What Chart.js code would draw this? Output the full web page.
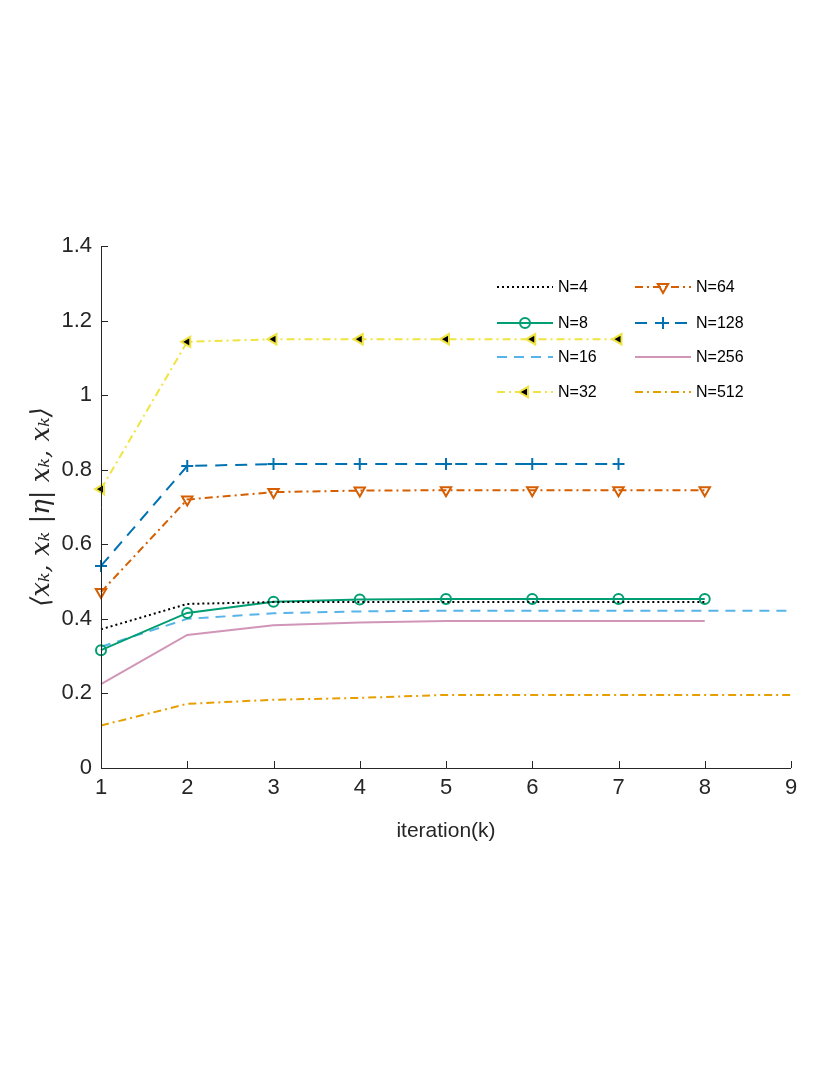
<!DOCTYPE html>
<html><head><meta charset="utf-8">
<script src="https://cdn.jsdelivr.net/npm/chart.js@4.4.1/dist/chart.umd.min.js"></script>
<style>html,body{margin:0;padding:0;background:#fff}#wrap{width:830px;height:1075px}</style>
</head><body><div id="wrap"><canvas id="c" width="830" height="1075"></canvas></div>
<script>
const iterations = [1,2,3,4,5,6,7,8,9];
const seriesNames = ['N=4','N=8','N=16','N=32','N=64','N=128','N=256','N=512'];
const n4   = [0.372,0.440,0.445,0.445,0.445,0.445,0.445,0.445];
const n8   = [0.316,0.416,0.446,0.452,0.453,0.453,0.453,0.453];
const n16  = [0.325,0.400,0.415,0.420,0.422,0.422,0.422,0.422,0.422];
const n32  = [0.748,1.143,1.150,1.150,1.150,1.150,1.150];
const n64  = [0.472,0.720,0.740,0.744,0.745,0.745,0.745,0.745];
const n128 = [0.542,0.810,0.815,0.815,0.815,0.815,0.815];
const n256 = [0.225,0.357,0.383,0.390,0.394,0.394,0.394,0.394];
const n512 = [0.114,0.172,0.183,0.188,0.196,0.196,0.196,0.196,0.196];
const xTicks = [1,2,3,4,5,6,7,8,9];
const yTicks = [0,0.2,0.4,0.6,0.8,1,1.2,1.4];

const pts = arr => arr.map((v,i)=>({x:iterations[i], y:v}));
const styles = [
  {c:'#000000', dash:[2,3], pt:false},
  {c:'#009E73', dash:[], pt:'circle', r:5, bg:'rgba(0,0,0,0)'},
  {c:'#56B4E9', dash:[10,7], pt:false},
  {c:'#F0E442', dash:[8,4,2,4], pt:'triangle', rot:-90, r:6, bg:'#000000'},
  {c:'#D55E00', dash:[8,4,2,4], pt:'triangle', rot:180, r:6, bg:'rgba(0,0,0,0)'},
  {c:'#0072B2', dash:[12,8], pt:'cross', r:6},
  {c:'#D195B8', dash:[], pt:false},
  {c:'#E69F00', dash:[8,4,2,4], pt:false}
];
const values = [n4,n8,n16,n32,n64,n128,n256,n512];
const datasets = values.map((arr,i)=>{
  const s = styles[i];
  return {
    label: seriesNames[i], data: pts(arr),
    borderColor: s.c, borderWidth: 2, borderDash: s.dash,
    pointStyle: s.pt || 'circle',
    pointRadius: s.pt ? s.r : 0,
    pointRotation: s.rot || 0,
    pointBackgroundColor: s.bg || s.c,
    pointBorderColor: s.c, pointBorderWidth: 2,
    fill: false, tension: 0, clip: false
  };
});

const L = 101, R = 791, T = 246, B = 768;
const textColor = '#262626';

const decor = {
  id: 'decor',
  afterDraw(chart){
    const ctx = chart.ctx;
    const xs = chart.scales.x, ys = chart.scales.y;
    ctx.save();
    ctx.strokeStyle = '#262626'; ctx.lineWidth = 1; ctx.setLineDash([]);
    ctx.beginPath(); ctx.moveTo(L+0.5, T); ctx.lineTo(L+0.5, B+0.5); ctx.lineTo(R, B+0.5); ctx.stroke();
    yTicks.forEach(v=>{const y=Math.round(ys.getPixelForValue(v))+0.5; ctx.beginPath(); ctx.moveTo(L,y); ctx.lineTo(L+7,y); ctx.stroke();});
    xTicks.forEach(v=>{const x=Math.round(xs.getPixelForValue(v))+0.5; ctx.beginPath(); ctx.moveTo(x,B); ctx.lineTo(x,B-7); ctx.stroke();});
    ctx.fillStyle = textColor;
    ctx.font = '21px "Liberation Sans", Arial, sans-serif';
    ctx.textAlign = 'center'; ctx.textBaseline = 'middle';
    ctx.fillText('iteration(k)', (L+R)/2, 831);
    ctx.save();
    ctx.translate(42, 507); ctx.rotate(-Math.PI/2);
    ctx.font = 'italic 26px "DejaVu Serif", serif';
    ctx.fillText('\u27E8x\u2096, x\u2096 |\u03B7| x\u2096, x\u2096\u27E9', 0, 0);
    ctx.restore();
    const cols = [{lx:497, tx:558}, {lx:635, tx:696}];
    const rows = [287, 323, 357, 392];
    ctx.font = '16px "Liberation Sans", Arial, sans-serif';
    ctx.textAlign = 'left';
    chart.data.datasets.forEach((ds,i)=>{
      const col = cols[Math.floor(i/4)], y = rows[i%4];
      ctx.save();
      ctx.strokeStyle = ds.borderColor; ctx.lineWidth = 2; ctx.setLineDash(ds.borderDash);
      ctx.beginPath(); ctx.moveTo(col.lx, y); ctx.lineTo(col.lx+56, y); ctx.stroke();
      ctx.restore();
      if (ds.pointRadius > 0) {
        ctx.save();
        ctx.strokeStyle = ds.pointBorderColor; ctx.fillStyle = ds.pointBackgroundColor; ctx.lineWidth = 2; ctx.setLineDash([]);
        Chart.helpers.drawPoint(ctx, {pointStyle: ds.pointStyle, rotation: ds.pointRotation, radius: ds.pointRadius, borderWidth: 2}, col.lx+28, y);
        ctx.restore();
      }
      ctx.fillStyle = '#000';
      ctx.fillText(ds.label, col.tx, y+1);
    });
    ctx.restore();
  }
};

new Chart(document.getElementById('c'), {
  type: 'line',
  data: { datasets },
  options: {
    responsive: false, animation: false, devicePixelRatio: 1,
    layout: { padding: { left: 0, right: 830-R, top: T, bottom: 0 } },
    plugins: { legend: { display: false }, tooltip: { enabled: false } },
    scales: {
      x: {
        type: 'linear', min: 1, max: 9,
        afterFit: s => { s.height = 1075 - B; },
        afterBuildTicks: s => { s.ticks = xTicks.map(v=>({value:v})); },
        grid: { display: false, drawTicks: false },
        border: { display: false },
        ticks: { color: textColor, padding: 7, font: { size: 22, family: '"Liberation Sans", Arial, sans-serif' }, callback: v => String(v) }
      },
      y: {
        min: 0, max: 1.4,
        afterFit: s => { s.width = L; },
        afterBuildTicks: s => { s.ticks = yTicks.map(v=>({value:v})); },
        grid: { display: false, drawTicks: false },
        border: { display: false },
        ticks: { color: textColor, padding: 9, font: { size: 22, family: '"Liberation Sans", Arial, sans-serif' }, callback: v => String(Math.round(v*10)/10) }
      }
    }
  },
  plugins: [decor]
});
</script></body></html>
